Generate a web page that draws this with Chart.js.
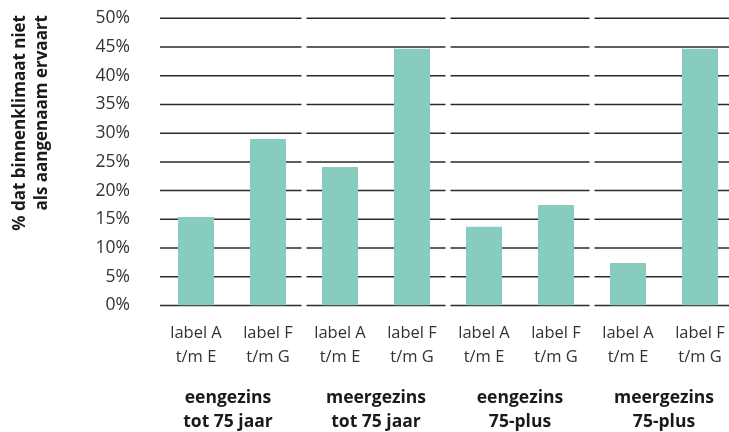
<!DOCTYPE html>
<html lang="nl">
<head>
<meta charset="UTF-8">
<title>Binnenklimaat</title>
<script src="https://cdn.jsdelivr.net/npm/chart.js@4.4.0"></script>
<style>
  html, body { margin: 0; padding: 0; background: #fff; overflow: hidden; }
  canvas { display: block; }
</style>
</head>
<body>
<canvas id="chart" width="736" height="432"></canvas>
<script>
// data
const categories = [
  ['label A', 't/m E'], ['label F', 't/m G'],
  ['label A', 't/m E'], ['label F', 't/m G'],
  ['label A', 't/m E'], ['label F', 't/m G'],
  ['label A', 't/m E'], ['label F', 't/m G']
];
const groups = [
  ['eengezins', 'tot 75 jaar'],
  ['meergezins', 'tot 75 jaar'],
  ['eengezins', '75-plus'],
  ['meergezins', '75-plus']
];
const values = [15.4, 29.0, 24.1, 44.7, 13.7, 17.5, 7.4, 44.7];
const yTicks = [0, 5, 10, 15, 20, 25, 30, 35, 40, 45, 50];
const yTitle = ['% dat binnenklimaat niet', 'als aangenaam ervaart'];

const FONT = '"Open Sans", "Noto Sans", sans-serif';

// horizontal grid lines, split per group with small gaps
const groupGrid = {
  id: 'groupGrid',
  beforeDatasetsDraw(chart) {
    const { ctx, chartArea, scales } = chart;
    const gw = (chartArea.right - chartArea.left) / groups.length;
    ctx.save();
    ctx.strokeStyle = '#2b2b2b';
    ctx.lineWidth = 1.5;
    yTicks.forEach(t => {
      const y = scales.y.getPixelForValue(t);
      for (let g = 0; g < groups.length; g++) {
        const x0 = chartArea.left + g * gw + (g === 0 ? 0 : 2.5);
        const x1 = chartArea.left + (g + 1) * gw - 2.5;
        ctx.beginPath();
        ctx.moveTo(x0, y);
        ctx.lineTo(x1, y);
        ctx.stroke();
      }
    });
    ctx.restore();
  },
  afterDraw(chart) {
    const { ctx, chartArea } = chart;
    const gw = (chartArea.right - chartArea.left) / groups.length;
    ctx.save();
    ctx.fillStyle = '#1a1a1a';
    ctx.font = 'bold 17.5px ' + FONT;
    ctx.textAlign = 'center';
    ctx.textBaseline = 'alphabetic';
    groups.forEach((lines, g) => {
      const cx = chartArea.left + (g + 0.5) * gw - (g === 0 ? 4 : 0);
      lines.forEach((s, i) => ctx.fillText(s, cx, 403 + i * 24));
    });
    // rotated y title
    ctx.font = 'bold 17px ' + FONT;
    ctx.textAlign = 'right';
    yTitle.forEach((s, i) => {
      ctx.save();
      ctx.translate(25 + i * 22, 15);
      ctx.rotate(-Math.PI / 2);
      ctx.fillText(s, 0, 0);
      ctx.restore();
    });
    ctx.restore();
  }
};

new Chart(document.getElementById('chart'), {
  type: 'bar',
  data: {
    labels: categories,
    datasets: [{
      data: values,
      backgroundColor: '#88cbbf',
      borderWidth: 0,
      categoryPercentage: 1,
      barPercentage: 0.5
    }]
  },
  options: {
    responsive: false,
    maintainAspectRatio: false,
    animation: false,
    layout: { padding: { top: 18.3, right: 0, left: 0, bottom: 0 } },
    plugins: { legend: { display: false }, tooltip: { enabled: false } },
    scales: {
      x: {
        grid: { display: false, drawTicks: false },
        border: { display: false },
        ticks: {
          color: '#333',
          font: { family: FONT, size: 16.5, lineHeight: 1.5 },
          padding: 15,
          maxRotation: 0,
          autoSkip: false
        },
        afterFit(scale) {
          scale.height = 126.5;
          scale.paddingLeft = 0;
          scale.paddingRight = 0;
        }
      },
      y: {
        min: 0,
        max: 50,
        grid: { display: false, drawTicks: false },
        border: { display: false },
        ticks: {
          stepSize: 5,
          color: '#333',
          font: { family: FONT, size: 17.5 },
          padding: 30,
          callback: v => v + '%'
        },
        afterFit(scale) {
          scale.width = 160;
          scale.paddingTop = 0;
          scale.paddingBottom = 0;
        }
      }
    }
  },
  plugins: [groupGrid]
});
</script>
</body>
</html>
